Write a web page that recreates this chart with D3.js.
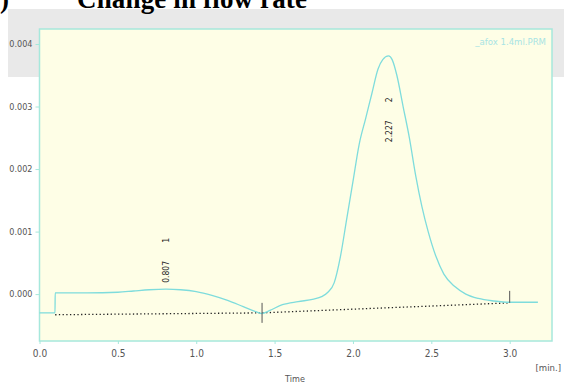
<!DOCTYPE html>
<html>
<head>
<meta charset="utf-8">
<script src="https://cdn.jsdelivr.net/npm/d3@7"></script>
<style>
  body { margin: 0; background: #fff; }
  svg { display: block; }
</style>
</head>
<body>
<svg id="mySvg"></svg>
<script>
const width = 564;
const height = 383;

// detector trace: time (min) and signal (AU)
const traceTime = [0, 0.099, 0.1, 0.3, 0.5, 0.6, 0.7, 0.807, 0.9, 1.0, 1.1, 1.2, 1.3, 1.38, 1.42,
  1.47, 1.55, 1.65, 1.75, 1.8, 1.84, 1.88, 1.92, 1.96, 2.0, 2.04, 2.08, 2.12, 2.16, 2.19, 2.227,
  2.25, 2.28, 2.32, 2.36, 2.4, 2.44, 2.48, 2.53, 2.58, 2.65, 2.72, 2.8, 2.9, 3.0, 3.18];
const traceValue = [-0.0003, -0.0003, 0.00002, 0.00002, 0.00003, 0.00005, 0.00007, 0.00008, 0.00007,
  0.00004, -0.00002, -0.0001, -0.0002, -0.00028, -0.00031, -0.00026, -0.00017, -0.00012, -0.00008,
  -0.00004, 0.00003, 0.00018, 0.0006, 0.0012, 0.0018, 0.0024, 0.0028, 0.0032, 0.0036, 0.00375, 0.00381,
  0.00375, 0.0035, 0.003, 0.0025, 0.0019, 0.0014, 0.001, 0.0006, 0.00032, 0.00012, 0.0, -0.00007,
  -0.00011, -0.00013, -0.00013];

// integration baseline
const baseTime = [0.1, 1.42, 3.0];
const baseValue = [-0.00033, -0.0003, -0.00014];

// peaks
const peakTime = [0.807, 2.227];
const peakNum = ["1", "2"];
const peakLabelValue = [0.00018, 0.00243];

const xTicks = [0, 0.5, 1, 1.5, 2, 2.5, 3];
const yTicks = [0, 0.001, 0.002, 0.003, 0.004];

const frameColor = "#a6e8dc";
const traceColor = "#7edcdc";
const labelFont = "'DejaVu Sans Condensed', 'DejaVu Sans', sans-serif";

const svg = d3.select("#mySvg").attr("width", width).attr("height", height);

// grey highlight band behind the top of the chart
svg.append("rect")
  .attr("x", 8).attr("y", 9)
  .attr("width", width - 8).attr("height", 68)
  .attr("fill", "#e9e9e9");

// cut-off heading
svg.append("text")
  .attr("x", 0).attr("y", 8)
  .attr("font-family", "'Liberation Serif', serif")
  .attr("font-weight", "bold")
  .attr("font-size", 27)
  .text(")");
svg.append("text")
  .attr("x", 77).attr("y", 8)
  .attr("font-family", "'Liberation Serif', serif")
  .attr("font-weight", "bold")
  .attr("font-size", 27)
  .attr("textLength", 230)
  .text("Change in flow rate");

const plot = { left: 39.5, right: 552, top: 29, bottom: 341 };

const x = d3.scaleLinear().domain([0, 3.27]).range([plot.left, plot.right]);
const y = d3.scaleLinear().domain([-0.00075, 0.00424]).range([plot.bottom, plot.top]);

// plot area
svg.append("rect")
  .attr("x", plot.left).attr("y", plot.top)
  .attr("width", plot.right - plot.left).attr("height", plot.bottom - plot.top)
  .attr("fill", "#fefee6")
  .attr("stroke", frameColor)
  .attr("stroke-width", 1.5);

// axes
let yAxis = svg.append("g")
  .attr("transform", `translate(${plot.left},0)`)
  .call(d3.axisLeft(y).tickValues(yTicks).tickSize(4).tickFormat(d3.format(".3f")));
yAxis.select(".domain").remove();
yAxis.selectAll(".tick line").attr("stroke", frameColor);
yAxis.selectAll(".tick text")
  .attr("font-family", labelFont).attr("font-size", 9).attr("fill", "#555");

let xAxis = svg.append("g")
  .attr("transform", `translate(0,${plot.bottom})`)
  .call(d3.axisBottom(x).tickValues(xTicks).tickSize(3).tickFormat(d3.format(".1f")));
xAxis.select(".domain").remove();
xAxis.selectAll(".tick line").attr("stroke", frameColor);
xAxis.selectAll(".tick text")
  .attr("y", 9)
  .attr("font-family", labelFont).attr("font-size", 10).attr("fill", "#555");

svg.append("text")
  .attr("x", 561).attr("y", 371)
  .attr("text-anchor", "end")
  .attr("font-family", labelFont).attr("font-size", 9.5).attr("fill", "#555")
  .text("[min.]");

svg.append("text")
  .attr("x", 295).attr("y", 382)
  .attr("text-anchor", "middle")
  .attr("font-family", labelFont).attr("font-size", 9).attr("fill", "#555")
  .text("Time");

// file name
svg.append("text")
  .attr("x", 546).attr("y", 45)
  .attr("text-anchor", "end")
  .attr("font-family", labelFont).attr("font-size", 9.5).attr("fill", "#a8e4e4")
  .text("_afox 1.4ml.PRM");

// baseline (dotted)
const baseData = baseTime.map((t, i) => [t, baseValue[i]]);
svg.append("path")
  .datum(baseData)
  .attr("fill", "none")
  .attr("stroke", "#222")
  .attr("stroke-width", 1.3)
  .attr("stroke-dasharray", "1.3,2.4")
  .attr("d", d3.line().x(d => x(d[0])).y(d => y(d[1])));

// trace
const traceData = traceTime.map((t, i) => [t, traceValue[i]]);
svg.append("path")
  .datum(traceData)
  .attr("fill", "none")
  .attr("stroke", traceColor)
  .attr("stroke-width", 1.3)
  .attr("d", d3.line().curve(d3.curveMonotoneX).x(d => x(d[0])).y(d => y(d[1])));

// peak cut markers
const cutUp = [10, 12];
const cutDown = [10, 0];
baseTime.slice(1).forEach((t, i) => {
  const py = y(baseValue[i + 1]);
  svg.append("line")
    .attr("x1", x(t)).attr("x2", x(t))
    .attr("y1", py - cutUp[i]).attr("y2", py + cutDown[i])
    .attr("stroke", "#555").attr("stroke-width", 1);
});

// peak labels (rotated)
peakTime.forEach((t, i) => {
  const px = x(t);
  const py = y(peakLabelValue[i]);
  const g = svg.append("g")
    .attr("transform", `translate(${px + 3},${py}) rotate(-90)`);
  g.append("text")
    .attr("x", 0).attr("y", 0)
    .attr("font-family", labelFont).attr("font-size", 8.5).attr("fill", "#222")
    .text(t.toFixed(3));
  g.append("text")
    .attr("x", 40).attr("y", 0)
    .attr("font-family", labelFont).attr("font-size", 8.5).attr("fill", "#222")
    .text(peakNum[i]);
});
</script>
</body>
</html>
